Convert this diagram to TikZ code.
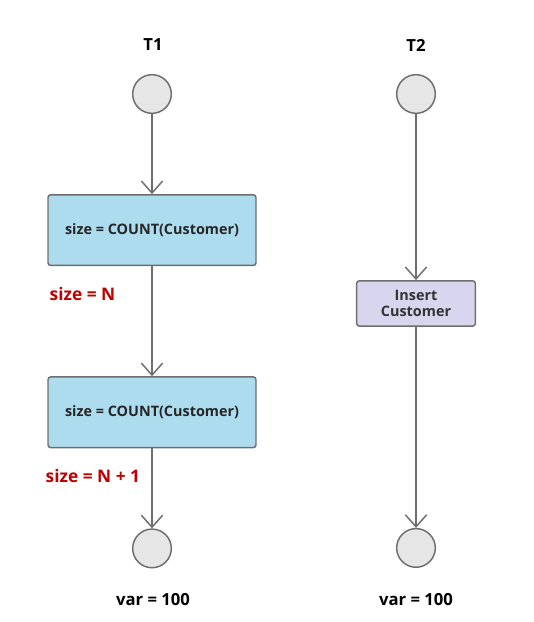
\documentclass[tikz,border=0pt]{standalone}
\usepackage{fontspec}
\setmainfont{Open Sans}
\usetikzlibrary{positioning, arrows.meta}

\definecolor{boxblue}{HTML}{ADDCEF}
\definecolor{boxlilac}{HTML}{D8D6EE}
\definecolor{dotgray}{HTML}{E6E6E6}
\definecolor{edgegray}{HTML}{6E6E6E}
\definecolor{notered}{HTML}{C00000}

\begin{document}
\begin{tikzpicture}[x=0.75pt, y=-0.75pt, font=\bfseries\fontsize{12.5}{15}\selectfont,
		state/.style={circle, draw=edgegray, fill=dotgray, line width=1.1pt, minimum size=29pt, inner sep=0pt},
		query/.style={rectangle, rounded corners=2pt, draw=edgegray, fill=boxblue, line width=1.1pt, minimum width=156pt, minimum height=53pt, font=\bfseries\fontsize{10.8}{13}\selectfont, text=black!85},
		insert/.style={rectangle, rounded corners=2pt, draw=edgegray, fill=boxlilac, line width=1.1pt, minimum width=89pt, minimum height=34pt, align=center, inner sep=1pt, font=\bfseries\fontsize{10.8}{12.5}\selectfont, text=black!80, text width=80pt},
		note/.style={text=notered, font=\bfseries\fontsize{13}{15}\selectfont, anchor=west},
		flow/.style={-{Straight Barb[length=9pt, width=16pt]}, draw=edgegray, line width=1.1pt}]
		\useasboundingbox (0,0) rectangle (533,622);

		% T1
		\node (t1) at (153,45) {T1};
		\node [state] (s1) at (152,94) {};
		\node [query, below=60pt of s1] (q1) {size = COUNT(Customer)};
		\node [query, below=82.5pt of q1] (q2) {size = COUNT(Customer)};
		\node [state, below=60pt of q2] (e1) {};
		\node (v1) at (153,600) {var = 100};
		\node [note] (n1) at (45,294) {size = N};
		\node [note] (n2) at (41,476) {size = N + 1};

		% T2
		\node (t2) at (416,45) {T2};
		\node [state] (s2) at (416,94) {};
		\node [insert, below=124.5pt of s2] (ins) {Insert\\Customer};
		\node [state, below=150.75pt of ins] (e2) {};
		\node (v2) at (416,600) {var = 100};

		\path[flow] (s1) edge (q1);
		\path[flow] (q1) edge (q2);
		\path[flow] (q2) edge (e1);
		\path[flow] (s2) edge (ins);
		\path[flow] (ins) edge (e2);
	\end{tikzpicture}
\end{document}
